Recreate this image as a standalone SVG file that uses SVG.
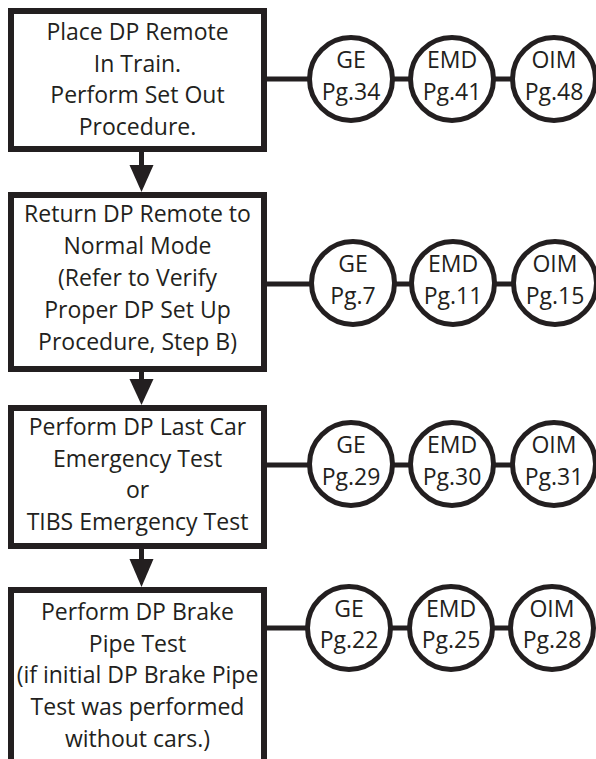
<svg xmlns="http://www.w3.org/2000/svg" width="596" height="759" viewBox="0 0 596 759">
<defs>
<style>
.box{fill:#fff;stroke:#231f20;stroke-width:6}
.circ{fill:#fff;stroke:#231f20;stroke-width:5}
.ln{stroke:#231f20;stroke-width:5;fill:none}
.head{fill:#231f20}
text{font-family:"Open Sans","Liberation Sans",sans-serif;font-size:23px;fill:#231f20;text-anchor:middle}
</style>
</defs>
<rect width="596" height="759" fill="#fff"/>
<g id="connectors">
<line class="ln" x1="267" y1="79" x2="554" y2="79"/>
<line class="ln" x1="267" y1="284" x2="554" y2="284"/>
<line class="ln" x1="267" y1="465" x2="554" y2="465"/>
<line class="ln" x1="267" y1="628" x2="552" y2="628"/>
<line class="ln" x1="141.5" y1="152" x2="141.5" y2="168"/>
<polygon class="head" points="129.5,165 153.5,165 141.5,192"/>
<line class="ln" x1="141.5" y1="372" x2="141.5" y2="382"/>
<polygon class="head" points="129.5,379 153.5,379 141.5,405"/>
<line class="ln" x1="141.5" y1="549" x2="141.5" y2="562"/>
<polygon class="head" points="129.5,559 153.5,559 141.5,587"/>
</g>
<g id="step1">
<rect class="box" x="11" y="11" width="253" height="138"/>
<text x="137.5" y="40">Place DP Remote</text>
<text x="137.5" y="72">In Train.</text>
<text x="137.5" y="103">Perform Set Out</text>
<text x="137.5" y="135">Procedure.</text>
</g>
<g id="step2">
<rect class="box" x="11" y="195" width="253" height="174"/>
<text x="137.5" y="222">Return DP Remote to</text>
<text x="137.5" y="254">Normal Mode</text>
<text x="137.5" y="286">(Refer to Verify</text>
<text x="137.5" y="318">Proper DP Set Up</text>
<text x="137.5" y="350">Procedure, Step B)</text>
</g>
<g id="step3">
<rect class="box" x="11" y="408" width="253" height="138"/>
<text x="137.5" y="435">Perform DP Last Car</text>
<text x="137.5" y="467">Emergency Test</text>
<text x="137.5" y="498">or</text>
<text x="137.5" y="530">TIBS Emergency Test</text>
</g>
<g id="step4">
<rect class="box" x="11" y="590" width="253" height="200"/>
<text x="137.5" y="620">Perform DP Brake</text>
<text x="137.5" y="652">Pipe Test</text>
<text x="137.5" y="683">(if initial DP Brake Pipe</text>
<text x="137.5" y="715">Test was performed</text>
<text x="137.5" y="747">without cars.)</text>
</g>
<g id="r1-ge"><circle class="circ" cx="351" cy="79" r="41.5"/><text x="351" y="68">GE</text><text x="351" y="100">Pg.34</text></g>
<g id="r1-emd"><circle class="circ" cx="452" cy="79" r="41.5"/><text x="452" y="68">EMD</text><text x="452" y="100">Pg.41</text></g>
<g id="r1-oim"><circle class="circ" cx="554" cy="79" r="41.5"/><text x="554" y="68">OIM</text><text x="554" y="100">Pg.48</text></g>
<g id="r2-ge"><circle class="circ" cx="353" cy="283" r="41.5"/><text x="353" y="272">GE</text><text x="353" y="304">Pg.7</text></g>
<g id="r2-emd"><circle class="circ" cx="453" cy="283" r="41.5"/><text x="453" y="272">EMD</text><text x="453" y="304">Pg.11</text></g>
<g id="r2-oim"><circle class="circ" cx="555" cy="283" r="41.5"/><text x="555" y="272">OIM</text><text x="555" y="304">Pg.15</text></g>
<g id="r3-ge"><circle class="circ" cx="351" cy="464" r="41.5"/><text x="351" y="453">GE</text><text x="351" y="485">Pg.29</text></g>
<g id="r3-emd"><circle class="circ" cx="452" cy="464" r="41.5"/><text x="452" y="453">EMD</text><text x="452" y="485">Pg.30</text></g>
<g id="r3-oim"><circle class="circ" cx="554" cy="464" r="41.5"/><text x="554" y="453">OIM</text><text x="554" y="485">Pg.31</text></g>
<g id="r4-ge"><circle class="circ" cx="349" cy="628" r="41.5"/><text x="349" y="617">GE</text><text x="349" y="648">Pg.22</text></g>
<g id="r4-emd"><circle class="circ" cx="451" cy="628" r="41.5"/><text x="451" y="617">EMD</text><text x="451" y="648">Pg.25</text></g>
<g id="r4-oim"><circle class="circ" cx="552" cy="628" r="41.5"/><text x="552" y="617">OIM</text><text x="552" y="648">Pg.28</text></g>
</svg>
